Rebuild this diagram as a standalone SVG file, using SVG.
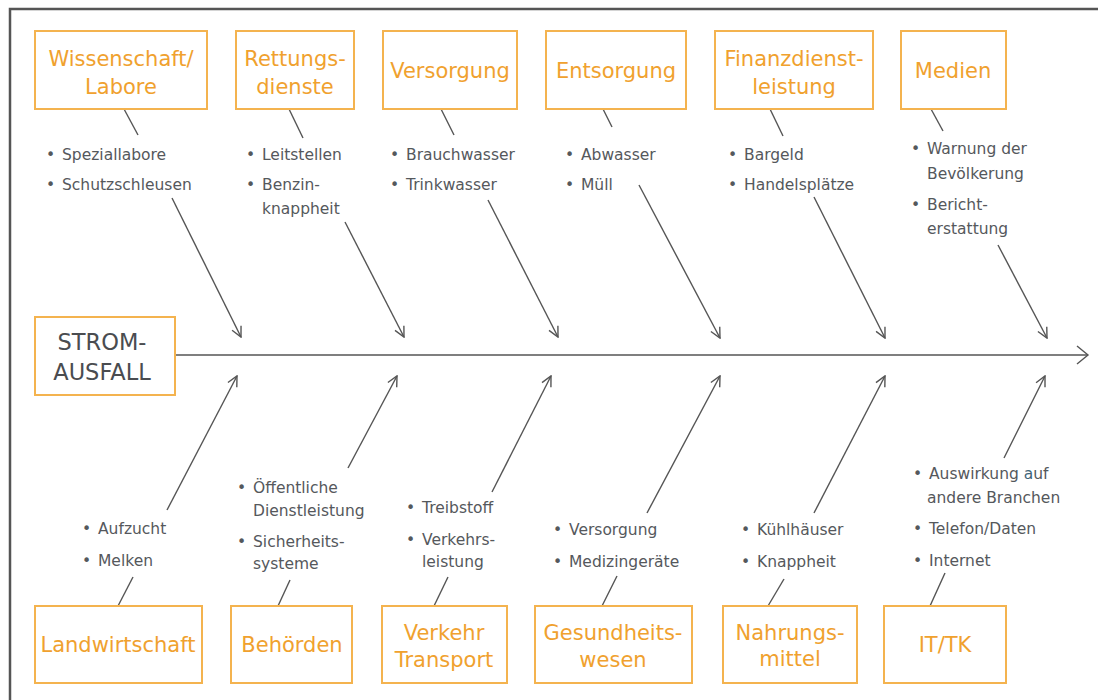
<svg xmlns="http://www.w3.org/2000/svg" width="1098" height="700" viewBox="0 0 1098 700">
<defs>
<style>
.box{fill:#ffffff;stroke:#F4B34F;stroke-width:2}
.title{font-family:"DejaVu Sans","Liberation Sans",sans-serif;font-size:21px;fill:#F0A12E;text-anchor:middle}
.item{font-family:"DejaVu Sans","Liberation Sans",sans-serif;font-size:15.5px;fill:#55585c}
.main{font-family:"DejaVu Sans","Liberation Sans",sans-serif;font-size:22.5px;fill:#4a4c50;text-anchor:middle}
.ln{stroke:#555;stroke-width:1.4;fill:none}
.ar{stroke:#555;stroke-width:1.4;fill:none;marker-end:url(#head)}
</style>
<marker id="head" viewBox="0 0 12 12" refX="11" refY="6" markerWidth="12" markerHeight="12" markerUnits="userSpaceOnUse" orient="auto">
<path d="M1,1 L11,6 L1,11" fill="none" stroke="#555" stroke-width="1.4"/>
</marker>
<marker id="bighead" viewBox="0 0 14 22" refX="12" refY="11" markerWidth="14" markerHeight="22" markerUnits="userSpaceOnUse" orient="auto">
<path d="M1,2 L12,11 L1,20" fill="none" stroke="#555" stroke-width="1.4"/>
</marker>
</defs>
<rect width="1098" height="700" fill="#ffffff"/>
<path d="M10,700 L10,9 L1098,9" fill="none" stroke="#555" stroke-width="2.5"/>

<g id="connectors">
<line x1="175" y1="355" x2="1088" y2="355" stroke="#555" stroke-width="1.4" marker-end="url(#bighead)"/>
<line class="ln" x1="124" y1="109" x2="138" y2="135"/>
<line class="ln" x1="289" y1="109" x2="303" y2="138"/>
<line class="ln" x1="441" y1="109" x2="454" y2="135"/>
<line class="ln" x1="603" y1="109" x2="612" y2="127"/>
<line class="ln" x1="770" y1="109" x2="783" y2="136"/>
<line class="ln" x1="931" y1="109" x2="943" y2="131"/>
<line class="ar" x1="172" y1="198" x2="241" y2="337"/>
<line class="ar" x1="345" y1="222" x2="404" y2="337"/>
<line class="ar" x1="488" y1="200" x2="558" y2="337"/>
<line class="ar" x1="639" y1="185" x2="720" y2="338"/>
<line class="ar" x1="814" y1="197" x2="885" y2="338"/>
<line class="ar" x1="998" y1="245" x2="1047" y2="338"/>
<line class="ar" x1="167" y1="510" x2="237" y2="376"/>
<line class="ar" x1="348" y1="468" x2="397" y2="376"/>
<line class="ar" x1="492" y1="492" x2="551" y2="376"/>
<line class="ar" x1="647" y1="513" x2="720" y2="376"/>
<line class="ar" x1="814" y1="513" x2="885" y2="376"/>
<line class="ar" x1="1004" y1="458" x2="1045" y2="376"/>
<line class="ln" x1="133" y1="577" x2="118" y2="606"/>
<line class="ln" x1="290" y1="580" x2="278" y2="606"/>
<line class="ln" x1="448" y1="577" x2="434" y2="606"/>
<line class="ln" x1="617" y1="576" x2="602" y2="606"/>
<line class="ln" x1="784" y1="579" x2="768" y2="606"/>
<line class="ln" x1="945" y1="573" x2="930" y2="606"/>
</g>

<g id="strom">
<rect class="box" x="35" y="317" width="140" height="78"/>
<text class="main" x="102" y="350">STROM-</text>
<text class="main" x="102" y="380">AUSFALL</text>
</g>

<g id="wissenschaft">
<rect class="box" x="35" y="31" width="172" height="78"/>
<text class="title" x="121" y="66">Wissenschaft/</text>
<text class="title" x="121" y="94">Labore</text>
<text class="item" y="160"><tspan x="46">•</tspan><tspan x="62">Speziallabore</tspan></text>
<text class="item" y="190"><tspan x="46">•</tspan><tspan x="62">Schutzschleusen</tspan></text>
</g>

<g id="rettung">
<rect class="box" x="236" y="31" width="118" height="78"/>
<text class="title" x="295" y="66">Rettungs-</text>
<text class="title" x="295" y="94">dienste</text>
<text class="item" y="160"><tspan x="246">•</tspan><tspan x="262">Leitstellen</tspan></text>
<text class="item" y="190"><tspan x="246">•</tspan><tspan x="262">Benzin-</tspan></text>
<text class="item" x="262" y="214">knappheit</text>
</g>

<g id="versorgung">
<rect class="box" x="383" y="31" width="134" height="78"/>
<text class="title" x="450" y="78">Versorgung</text>
<text class="item" y="160"><tspan x="390">•</tspan><tspan x="406">Brauchwasser</tspan></text>
<text class="item" y="190"><tspan x="390">•</tspan><tspan x="406">Trinkwasser</tspan></text>
</g>

<g id="entsorgung">
<rect class="box" x="546" y="31" width="140" height="78"/>
<text class="title" x="616" y="78">Entsorgung</text>
<text class="item" y="160"><tspan x="565">•</tspan><tspan x="581">Abwasser</tspan></text>
<text class="item" y="190"><tspan x="565">•</tspan><tspan x="581">Müll</tspan></text>
</g>

<g id="finanz">
<rect class="box" x="715" y="31" width="158" height="78"/>
<text class="title" x="794" y="66">Finanzdienst-</text>
<text class="title" x="794" y="94">leistung</text>
<text class="item" y="160"><tspan x="728">•</tspan><tspan x="744">Bargeld</tspan></text>
<text class="item" y="190"><tspan x="728">•</tspan><tspan x="744">Handelsplätze</tspan></text>
</g>

<g id="medien">
<rect class="box" x="901" y="31" width="105" height="78"/>
<text class="title" x="953" y="78">Medien</text>
<text class="item" y="154"><tspan x="911">•</tspan><tspan x="927">Warnung der</tspan></text>
<text class="item" x="927" y="179">Bevölkerung</text>
<text class="item" y="210"><tspan x="911">•</tspan><tspan x="927">Bericht-</tspan></text>
<text class="item" x="927" y="234">erstattung</text>
</g>

<g id="landwirtschaft">
<rect class="box" x="35" y="606" width="167" height="77"/>
<text class="title" x="118" y="652">Landwirtschaft</text>
<text class="item" y="534"><tspan x="82">•</tspan><tspan x="98">Aufzucht</tspan></text>
<text class="item" y="566"><tspan x="82">•</tspan><tspan x="98">Melken</tspan></text>
</g>

<g id="behoerden">
<rect class="box" x="231" y="606" width="121" height="77"/>
<text class="title" x="292" y="652">Behörden</text>
<text class="item" y="493"><tspan x="237">•</tspan><tspan x="253">Öffentliche</tspan></text>
<text class="item" x="253" y="516">Dienstleistung</text>
<text class="item" y="547"><tspan x="237">•</tspan><tspan x="253">Sicherheits-</tspan></text>
<text class="item" x="253" y="569">systeme</text>
</g>

<g id="verkehr">
<rect class="box" x="382" y="606" width="125" height="77"/>
<text class="title" x="444" y="640">Verkehr</text>
<text class="title" x="444" y="667">Transport</text>
<text class="item" y="513"><tspan x="406">•</tspan><tspan x="422">Treibstoff</tspan></text>
<text class="item" y="545"><tspan x="406">•</tspan><tspan x="422">Verkehrs-</tspan></text>
<text class="item" x="422" y="567">leistung</text>
</g>

<g id="gesundheit">
<rect class="box" x="535" y="606" width="157" height="77"/>
<text class="title" x="613" y="640">Gesundheits-</text>
<text class="title" x="613" y="667">wesen</text>
<text class="item" y="535"><tspan x="553">•</tspan><tspan x="569">Versorgung</tspan></text>
<text class="item" y="567"><tspan x="553">•</tspan><tspan x="569">Medizingeräte</tspan></text>
</g>

<g id="nahrung">
<rect class="box" x="723" y="606" width="134" height="77"/>
<text class="title" x="790" y="640">Nahrungs-</text>
<text class="title" x="790" y="666">mittel</text>
<text class="item" y="535"><tspan x="741">•</tspan><tspan x="757">Kühlhäuser</tspan></text>
<text class="item" y="567"><tspan x="741">•</tspan><tspan x="757">Knappheit</tspan></text>
</g>

<g id="ittk">
<rect class="box" x="884" y="606" width="122" height="77"/>
<text class="title" x="945" y="652">IT/TK</text>
<text class="item" y="479"><tspan x="913">•</tspan><tspan x="929">Auswirkung </tspan><tspan fill="#3f6478">a</tspan><tspan>uf</tspan></text>
<text class="item" x="927" y="503">andere Branchen</text>
<text class="item" y="534"><tspan x="913">•</tspan><tspan x="929">Telefon/Daten</tspan></text>
<text class="item" y="566"><tspan x="913">•</tspan><tspan x="929">Internet</tspan></text>
</g>
</svg>
